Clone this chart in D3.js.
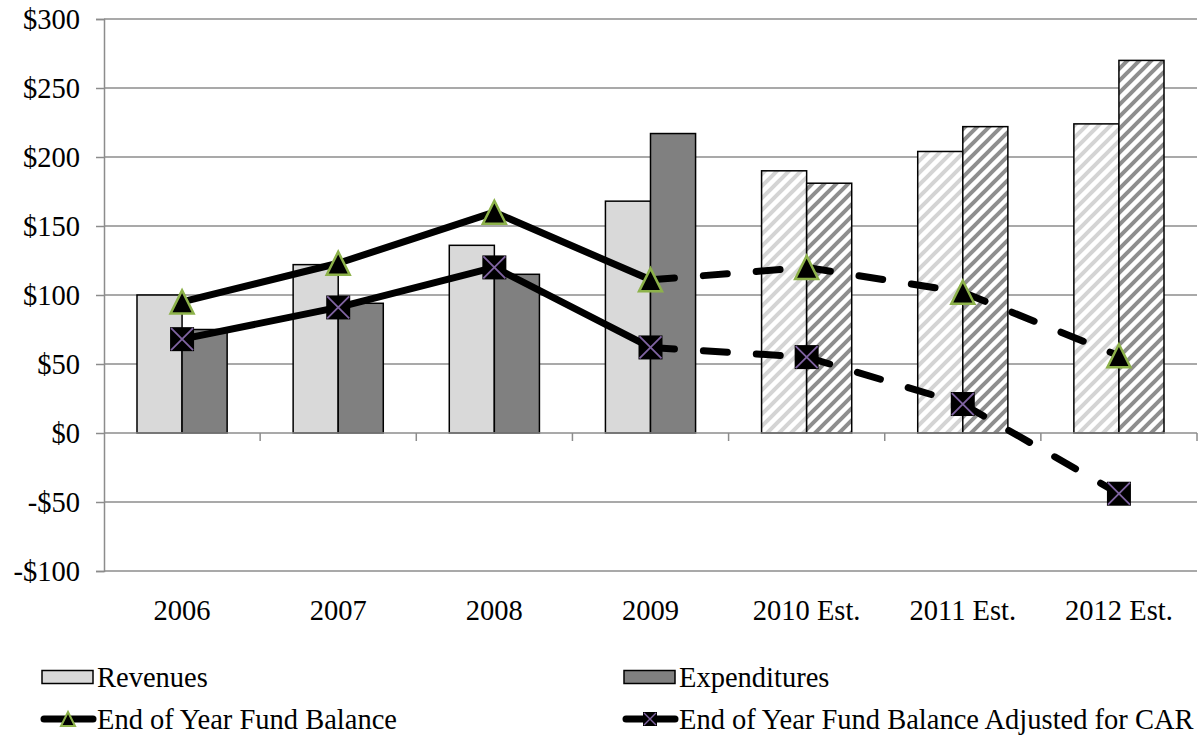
<!DOCTYPE html>
<html>
<head>
<meta charset="utf-8">
<script src="https://cdn.jsdelivr.net/npm/d3@7/dist/d3.min.js"></script>
<style>
  html, body { margin: 0; padding: 0; background: #fff; }
  svg, svg text { font-family: "Liberation Serif", "Times New Roman", serif !important; }
  svg { display: block; }
</style>
</head>
<body>
<svg id="chart" width="1199" height="738"></svg>
<script>
// Fiscal years (last three are estimates)
const years = ["2006", "2007", "2008", "2009", "2010 Est.", "2011 Est.", "2012 Est."];
const estimated = [false, false, false, false, true, true, true];

// Values in millions of dollars
const revenues = [100, 122, 136, 168, 190, 204, 224];
const expenditures = [75, 94, 115, 217, 181, 222, 270];
const fundBalance = [95, 123, 160, 111, 120, 102, 56];
const fundBalanceAdj = [68, 91, 120, 62, 55, 21, -44];

const yTicks = [-100, -50, 0, 50, 100, 150, 200, 250, 300];

(function () {
const svg = d3.select("#chart");
const plotL = 104, plotR = 1197, plotT = 19, plotB = 571;

const x = d3.scaleBand().domain(years).range([plotL, plotR])
  .paddingInner(0.4227).paddingOuter(0.2113);
const xs = d3.scaleBand().domain(["rev", "exp"]).range([0, x.bandwidth()]);
const y = d3.scaleLinear().domain([-100, 300]).range([plotB, plotT]);

const gridColor = "#8c8c8c";
const font = "28.5px";

// Hatch patterns for estimated years
const defs = svg.append("defs");
function hatch(id, color) {
  const p = defs.append("pattern").attr("id", id)
    .attr("patternUnits", "userSpaceOnUse").attr("width", 12).attr("height", 12);
  p.append("rect").attr("width", 12).attr("height", 12).attr("fill", "#fff");
  p.append("path").attr("d", "M-3,3 L3,-3 M0,12 L12,0 M9,15 L15,9")
    .attr("stroke", color).attr("stroke-width", 4).attr("fill", "none");
}
hatch("hatchRev", "#d4d4d4");
hatch("hatchExp", "#8e8e8e");

// Horizontal gridlines
svg.append("g").selectAll("line").data(yTicks.filter(d => d !== 0)).join("line")
  .attr("x1", plotL).attr("x2", plotR)
  .attr("y1", d => y(d)).attr("y2", d => y(d))
  .attr("stroke", gridColor).attr("stroke-width", 1.5);

// Value axis
const yAxis = d3.axisLeft(y).tickValues(yTicks).tickSize(8).tickPadding(16)
  .tickFormat(d => (d < 0 ? "-$" : "$") + Math.abs(d));
const gy = svg.append("g").attr("transform", `translate(${plotL},0)`).call(yAxis);
gy.attr("font-family", null).attr("font-size", font);
gy.select(".domain").attr("stroke", gridColor).attr("stroke-width", 1.5);
gy.selectAll(".tick line").attr("stroke", gridColor).attr("stroke-width", 1.5);
gy.selectAll(".tick text").attr("fill", "#000").attr("dy", "0.34em");

// Bars
const bars = svg.append("g");
years.forEach((yr, i) => {
  const x0 = x(yr);
  [["rev", revenues[i], "#d9d9d9", "url(#hatchRev)"],
   ["exp", expenditures[i], "#808080", "url(#hatchExp)"]].forEach(([k, v, solid, pat]) => {
    bars.append("rect")
      .attr("x", x0 + xs(k)).attr("width", xs.bandwidth())
      .attr("y", y(Math.max(0, v))).attr("height", Math.abs(y(v) - y(0)))
      .attr("fill", estimated[i] ? pat : solid)
      .attr("stroke", "#000").attr("stroke-width", 1.5);
  });
});

// Category axis along zero
const catAxis = svg.append("g");
catAxis.append("line").attr("x1", plotL).attr("x2", plotR)
  .attr("y1", y(0)).attr("y2", y(0)).attr("stroke", gridColor).attr("stroke-width", 1.5);
const bounds = d3.range(1, years.length + 1).map(i => plotL + i * x.step());
catAxis.selectAll("line.tk").data(bounds).join("line").attr("class", "tk")
  .attr("x1", d => d).attr("x2", d => d)
  .attr("y1", y(0)).attr("y2", y(0) + 8)
  .attr("stroke", gridColor).attr("stroke-width", 1.5);
svg.append("g").selectAll("text").data(years).join("text")
  .attr("x", d => x(d) + x.bandwidth() / 2).attr("y", 620)
  .attr("text-anchor", "middle").attr("font-size", font).text(d => d);

// Line series: solid through 2009, dashed for estimates
const cx = i => x(years[i]) + x.bandwidth() / 2;
const line = d3.line().x(d => cx(d.i)).y(d => y(d.v));
function drawSeries(vals) {
  const pts = vals.map((v, i) => ({ i, v }));
  svg.append("path").datum(pts.slice(0, 4)).attr("d", line)
    .attr("fill", "none").attr("stroke", "#000").attr("stroke-width", 7)
    .attr("stroke-linejoin", "round").attr("stroke-linecap", "round");
  for (let i = 3; i < pts.length - 1; i++) {
    svg.append("path").datum([pts[i], pts[i + 1]]).attr("d", line)
      .attr("fill", "none").attr("stroke", "#000").attr("stroke-width", 7)
      .attr("stroke-dasharray", "24,29").attr("stroke-linecap", "round");
  }
}
drawSeries(fundBalance);
drawSeries(fundBalanceAdj);

// Markers
function triangle(g, cxp, cyp, s, sw) {
  const h = s;
  g.append("path")
    .attr("d", `M${cxp},${cyp - h / 2} L${cxp + s / 2},${cyp + h / 2} L${cxp - s / 2},${cyp + h / 2} Z`)
    .attr("fill", "#000").attr("stroke", "#8db24a").attr("stroke-width", sw)
    .attr("stroke-linejoin", "miter");
}
function crossBox(g, cxp, cyp, s, sw) {
  g.append("rect").attr("x", cxp - s / 2).attr("y", cyp - s / 2)
    .attr("width", s).attr("height", s).attr("fill", "#000");
  const d = s / 2 - 1;
  g.append("path")
    .attr("d", `M${cxp - d},${cyp - d} L${cxp + d},${cyp + d} M${cxp + d},${cyp - d} L${cxp - d},${cyp + d}`)
    .attr("stroke", "#8064a2").attr("stroke-width", sw);
}
const mk = svg.append("g");
fundBalance.forEach((v, i) => triangle(mk, cx(i), y(v), 23, 2.5));
fundBalanceAdj.forEach((v, i) => crossBox(mk, cx(i), y(v), 24, 1.8));

// Legend
const lg = svg.append("g").attr("font-size", font);
const legendItems = [
  { label: "Revenues", kind: "rect", fill: "#d9d9d9", x: 42, y: 677 },
  { label: "Expenditures", kind: "rect", fill: "#808080", x: 624, y: 677 },
  { label: "End of Year Fund Balance", kind: "tri", x: 42, y: 719 },
  { label: "End of Year Fund Balance Adjusted for CAR", kind: "cross", x: 624, y: 719 }
];
legendItems.forEach(it => {
  if (it.kind === "rect") {
    lg.append("rect").attr("x", it.x).attr("y", it.y - 6.5).attr("width", 51).attr("height", 13)
      .attr("fill", it.fill).attr("stroke", "#000").attr("stroke-width", 1.5);
  } else {
    lg.append("line").attr("x1", it.x + 2).attr("x2", it.x + 51)
      .attr("y1", it.y).attr("y2", it.y)
      .attr("stroke", "#000").attr("stroke-width", 7).attr("stroke-linecap", "round");
    if (it.kind === "tri") triangle(lg, it.x + 26, it.y, 14, 2);
    else crossBox(lg, it.x + 26, it.y, 14, 1.4);
  }
  lg.append("text").attr("x", it.x + 55).attr("y", it.y + 10).text(it.label);
});
})();
</script>
</body>
</html>
